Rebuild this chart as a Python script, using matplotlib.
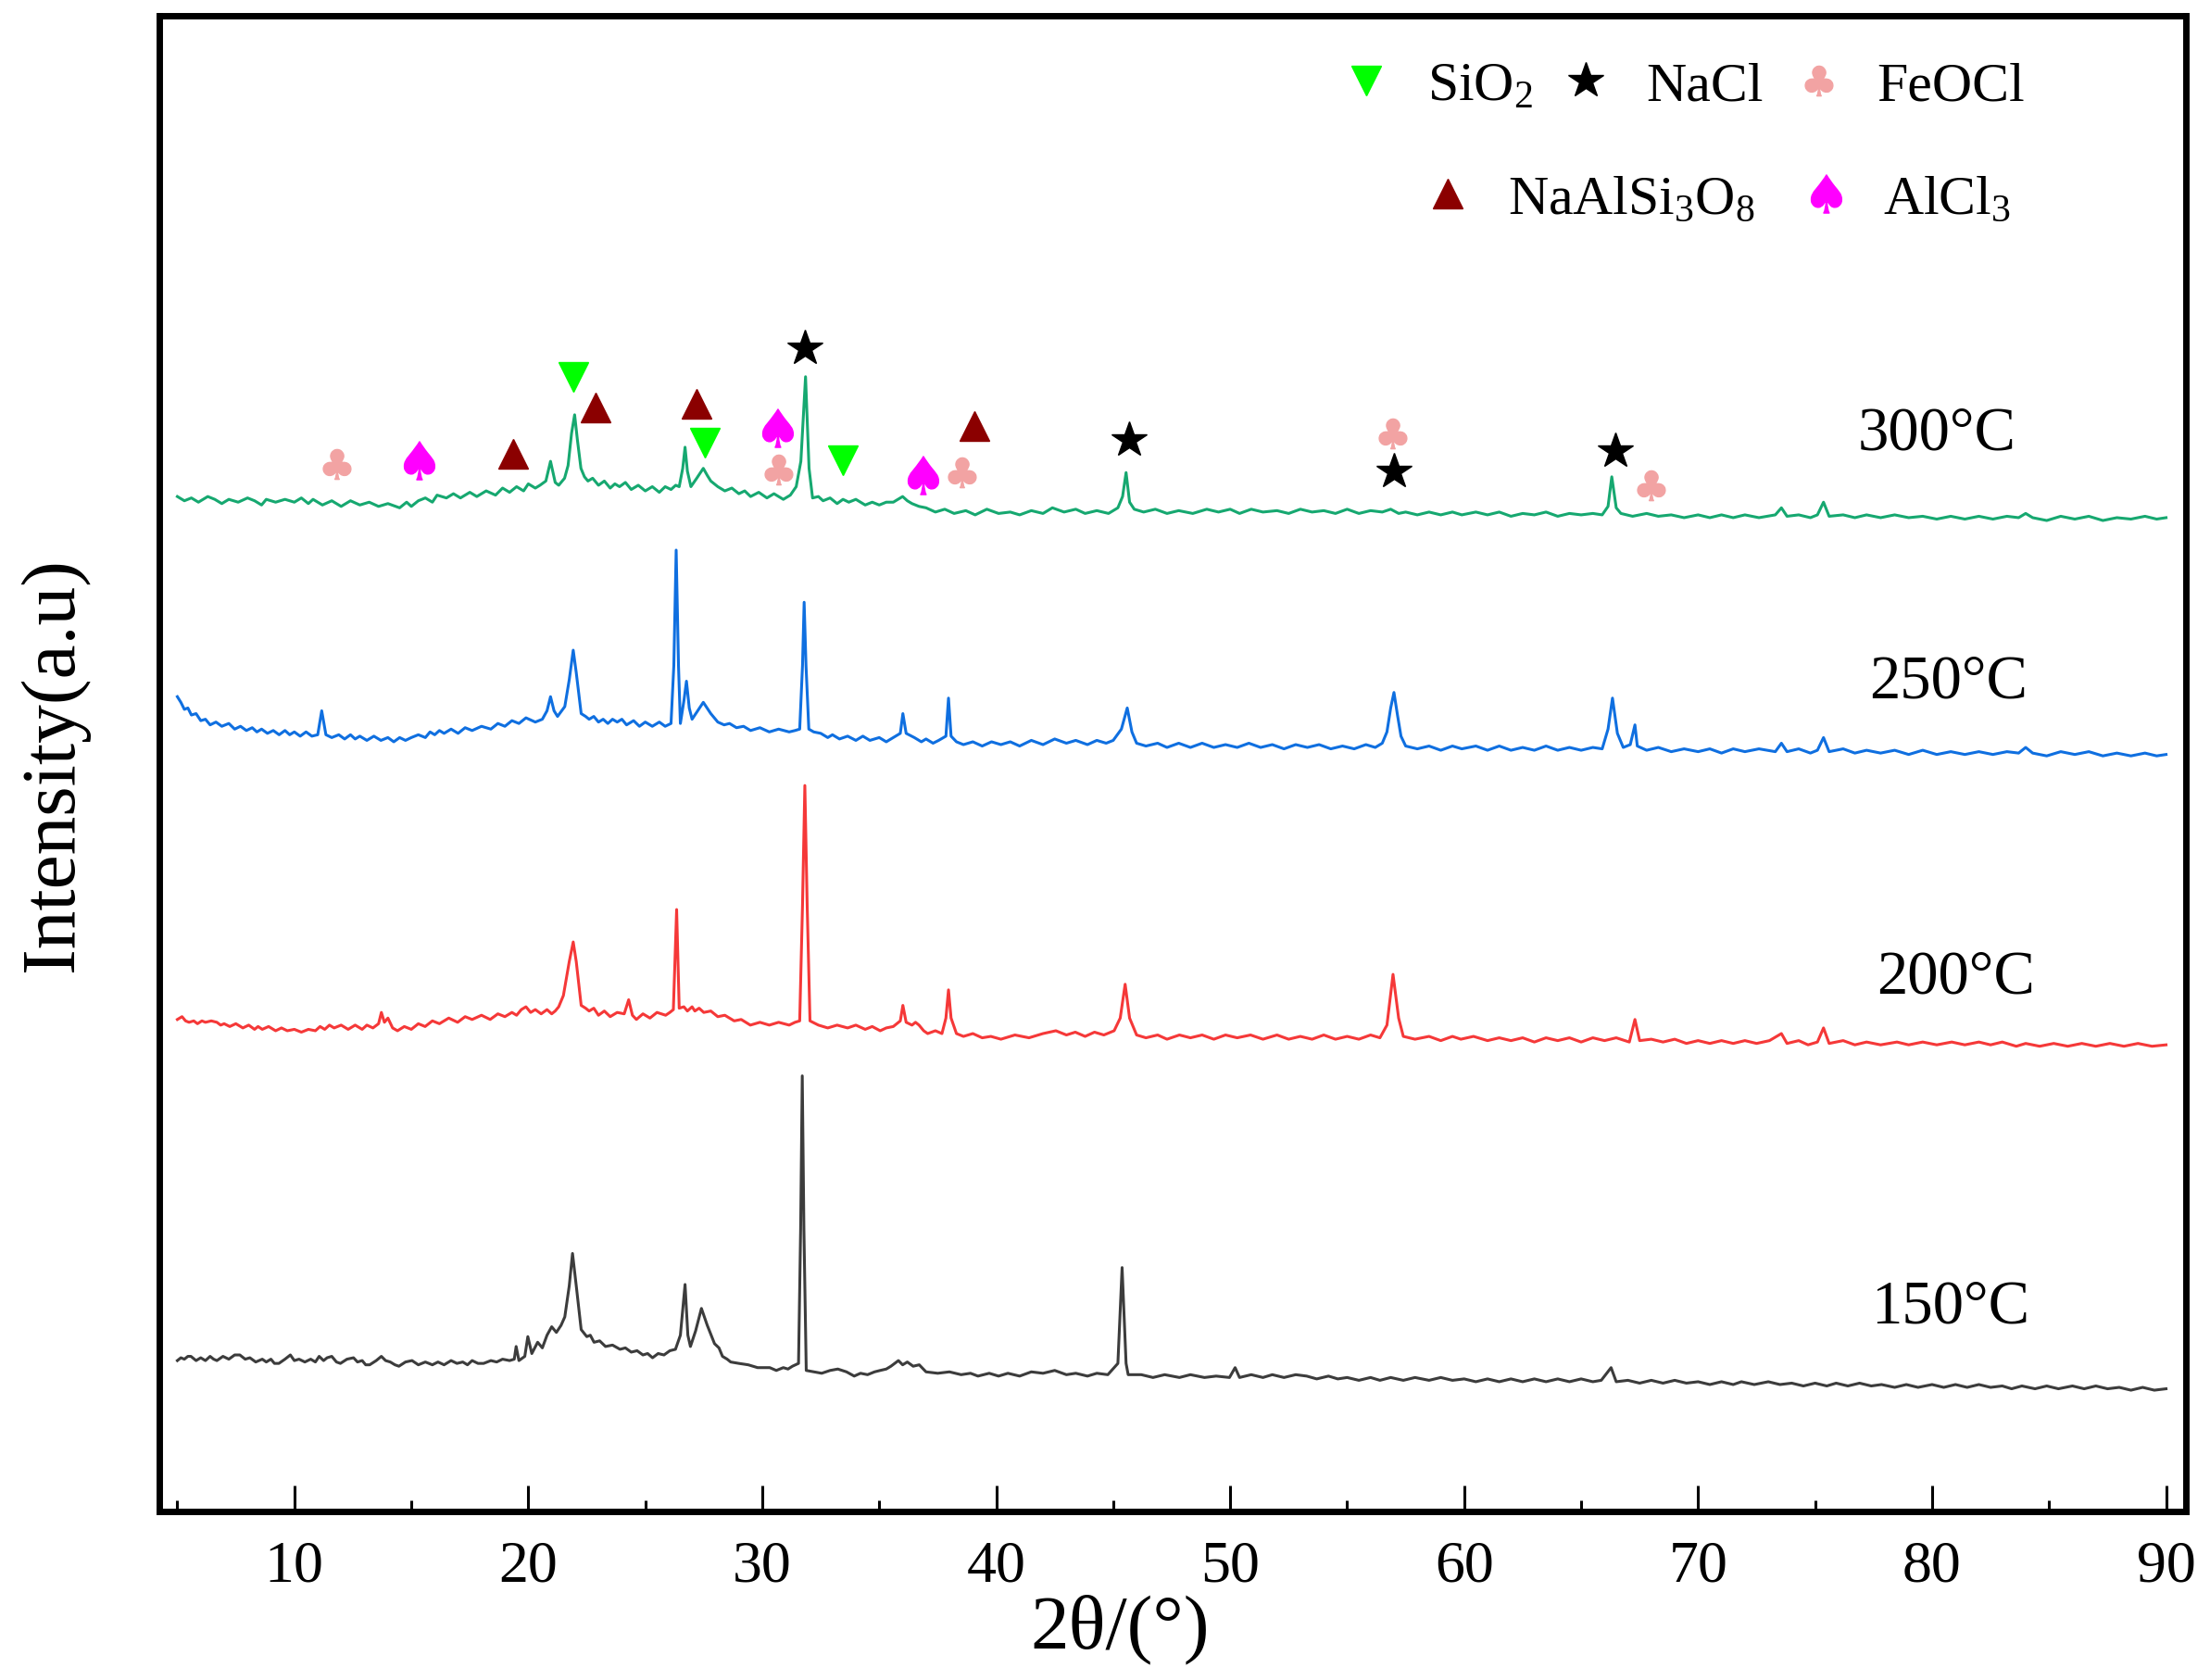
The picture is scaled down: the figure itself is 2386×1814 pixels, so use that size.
import numpy as np
import matplotlib
matplotlib.use('Agg')
import matplotlib.pyplot as plt
from matplotlib.textpath import TextPath
from matplotlib.font_manager import FontProperties
from matplotlib.path import Path
from matplotlib.lines import Line2D
from matplotlib.ticker import MultipleLocator


# ---- XRD patterns: (2theta deg, intensity a.u., already stacked) ----
pat300 = [(5.0, 720), (5.3, 717), (5.6, 719), (5.9, 716), (6.3, 720), (6.6, 718), (6.9, 715),
          (7.2, 718), (7.6, 716), (8.0, 719), (8.3, 717), (8.6, 714), (8.8, 718), (9.2, 716),
          (9.6, 718), (10.0, 716), (10.3, 719), (10.6, 715), (10.8, 718), (11.2, 714), (11.6, 717),
          (12.0, 713), (12.4, 717), (12.8, 714), (13.2, 716), (13.6, 713), (14.0, 715), (14.5, 712),
          (14.8, 716), (15.0, 713), (15.3, 717), (15.6, 719), (15.9, 716), (16.1, 721), (16.5, 719),
          (16.8, 722), (17.1, 719), (17.5, 723), (17.8, 720), (18.2, 724), (18.6, 721), (18.9, 726),
          (19.2, 723), (19.5, 727), (19.8, 724), (20.0, 729), (20.3, 726), (20.5, 728), (20.75, 731),
          (20.95, 745), (21.15, 730), (21.3, 728), (21.55, 733), (21.7, 742), (21.85, 765),
          (21.98, 778), (22.1, 760), (22.25, 740), (22.4, 734), (22.55, 731), (22.75, 733),
          (23.0, 728), (23.25, 731), (23.5, 726), (23.7, 729), (23.9, 727), (24.15, 730), (24.4, 725),
          (24.7, 728), (25.0, 724), (25.3, 727), (25.6, 723), (25.85, 727), (26.1, 725), (26.3, 728),
          (26.45, 727), (26.6, 740), (26.7, 755), (26.8, 738), (26.95, 727), (27.2, 733),
          (27.48, 740), (27.65, 735), (27.8, 731), (28.1, 727), (28.4, 724), (28.7, 726), (29.0, 722),
          (29.25, 724), (29.5, 720), (29.85, 723), (30.2, 719), (30.5, 722), (30.9, 718), (31.2, 721),
          (31.45, 727), (31.65, 745), (31.85, 805), (32.0, 740), (32.15, 719), (32.4, 720),
          (32.6, 717), (32.9, 719), (33.2, 715), (33.45, 718), (33.7, 716), (34.0, 718), (34.4, 714),
          (34.7, 716), (35.0, 714), (35.3, 716), (35.6, 716), (35.8, 718), (36.0, 720), (36.2, 717),
          (36.4, 715), (36.7, 713), (37.0, 712), (37.4, 709), (37.8, 711), (38.2, 708), (38.7, 710),
          (39.1, 707), (39.6, 711), (40.1, 708), (40.6, 709), (41.0, 707), (41.5, 710), (42.0, 708),
          (42.4, 712), (42.9, 709), (43.4, 711), (43.8, 708), (44.3, 710), (44.8, 708), (45.2, 712),
          (45.4, 720), (45.55, 737), (45.7, 716), (45.9, 711), (46.3, 709), (46.8, 711), (47.3, 708),
          (47.8, 710), (48.4, 708), (49.0, 711), (49.5, 709), (50.0, 711), (50.4, 708), (50.9, 711),
          (51.4, 709), (52.0, 710), (52.5, 708), (53.0, 711), (53.5, 709), (54.0, 710), (54.5, 708),
          (55.0, 711), (55.5, 708), (56.0, 710), (56.5, 709), (56.86, 711), (57.2, 708), (57.5, 709),
          (58.0, 707), (58.5, 709), (59.0, 707), (59.5, 709), (59.9, 707), (60.5, 709), (61.0, 707),
          (61.5, 709), (62.0, 706), (62.5, 708), (63.0, 707), (63.5, 709), (64.0, 706), (64.5, 708),
          (65.0, 707), (65.5, 708), (65.9, 707), (66.15, 713), (66.31, 734), (66.5, 712), (66.7, 708),
          (67.2, 706), (67.8, 708), (68.3, 706), (68.85, 707), (69.4, 705), (70.0, 707), (70.5, 705),
          (71.0, 707), (71.5, 705), (72.0, 707), (72.6, 705), (73.3, 707), (73.56, 712), (73.8, 706),
          (74.3, 707), (74.8, 705), (75.1, 707), (75.36, 716), (75.6, 706), (76.2, 707), (76.7, 705),
          (77.2, 707), (77.8, 705), (78.4, 707), (79.0, 705), (79.6, 706), (80.2, 704), (80.8, 706),
          (81.4, 704), (82.0, 706), (82.6, 704), (83.2, 706), (83.7, 705), (84.0, 708), (84.3, 705),
          (84.9, 703), (85.5, 706), (86.1, 704), (86.7, 706), (87.3, 703), (87.9, 705), (88.5, 704),
          (89.1, 706), (89.6, 704), (90.0, 705)]

pat250 = [(5.0, 578), (5.15, 574), (5.3, 569), (5.45, 570), (5.6, 565), (5.8, 566), (6.0, 561),
          (6.2, 562), (6.4, 558), (6.65, 560), (6.9, 557), (7.2, 559), (7.45, 555), (7.7, 557),
          (7.95, 554), (8.2, 556), (8.4, 553), (8.6, 555), (8.85, 552), (9.1, 554), (9.35, 551),
          (9.6, 554), (9.8, 551), (10.0, 553), (10.25, 550), (10.5, 553), (10.75, 550), (11.0, 551),
          (11.17, 568), (11.35, 551), (11.6, 549), (11.9, 551), (12.15, 548), (12.4, 551),
          (12.6, 548), (12.8, 550), (13.1, 547), (13.4, 550), (13.7, 547), (14.0, 549), (14.25, 546),
          (14.5, 549), (14.75, 547), (15.0, 549), (15.3, 551), (15.6, 549), (15.8, 553), (16.0, 551),
          (16.2, 554), (16.4, 552), (16.7, 555), (17.0, 552), (17.3, 556), (17.6, 554), (18.0, 557),
          (18.4, 555), (18.7, 559), (19.0, 557), (19.3, 561), (19.6, 559), (19.9, 563), (20.3, 560),
          (20.6, 562), (20.8, 568), (20.95, 578), (21.1, 568), (21.25, 564), (21.56, 571),
          (21.75, 590), (21.92, 611), (22.05, 595), (22.26, 566), (22.45, 564), (22.6, 562),
          (22.8, 564), (23.0, 560), (23.2, 562), (23.4, 559), (23.6, 562), (23.8, 560), (24.0, 562),
          (24.2, 558), (24.5, 561), (24.75, 557), (25.0, 560), (25.3, 557), (25.6, 560), (25.85, 557),
          (26.1, 559), (26.22, 600), (26.32, 682), (26.42, 600), (26.5, 559), (26.65, 575),
          (26.76, 589), (26.88, 570), (27.0, 562), (27.2, 567), (27.48, 574), (27.8, 566),
          (28.1, 560), (28.37, 558), (28.6, 559), (28.9, 556), (29.2, 557), (29.5, 554), (29.9, 556),
          (30.3, 553), (30.7, 555), (31.15, 553), (31.4, 554), (31.6, 555), (31.72, 600),
          (31.79, 645), (31.87, 600), (31.99, 555), (32.2, 553), (32.5, 552), (32.8, 549),
          (33.0, 551), (33.3, 548), (33.65, 550), (34.0, 547), (34.3, 550), (34.6, 547), (35.0, 549),
          (35.3, 546), (35.6, 549), (35.9, 552), (36.01, 566), (36.15, 552), (36.5, 549), (36.8, 546),
          (37.0, 548), (37.3, 545), (37.54, 547), (37.85, 550), (37.96, 577), (38.07, 550),
          (38.3, 546), (38.6, 544), (39.0, 546), (39.4, 543), (39.8, 546), (40.2, 544), (40.6, 546),
          (41.0, 543), (41.5, 547), (42.0, 544), (42.5, 548), (43.0, 545), (43.4, 547), (43.9, 544),
          (44.3, 547), (44.7, 545), (45.0, 547), (45.35, 555), (45.6, 570), (45.8, 553), (46.0, 545),
          (46.4, 543), (46.9, 545), (47.3, 542), (47.8, 545), (48.3, 542), (48.8, 545), (49.3, 542),
          (49.8, 544), (50.3, 542), (50.8, 545), (51.3, 542), (51.8, 544), (52.3, 541), (52.8, 544),
          (53.3, 542), (53.8, 544), (54.3, 541), (54.8, 543), (55.3, 541), (55.8, 544), (56.2, 542),
          (56.5, 545), (56.7, 553), (56.86, 570), (57.0, 581), (57.15, 565), (57.3, 550), (57.5, 543),
          (58.0, 541), (58.5, 543), (59.0, 540), (59.5, 543), (59.9, 541), (60.5, 543), (61.0, 540),
          (61.5, 543), (62.0, 540), (62.5, 542), (63.0, 540), (63.5, 543), (64.0, 540), (64.5, 542),
          (65.0, 540), (65.5, 542), (65.9, 541), (66.15, 555), (66.34, 577), (66.55, 552),
          (66.8, 542), (67.1, 544), (67.3, 558), (67.4, 543), (67.8, 540), (68.3, 542), (68.85, 539),
          (69.4, 541), (70.0, 539), (70.5, 541), (71.0, 538), (71.5, 541), (72.0, 539), (72.6, 541),
          (73.3, 539), (73.56, 545), (73.8, 539), (74.3, 541), (74.8, 538), (75.1, 540), (75.36, 549),
          (75.6, 539), (76.2, 541), (76.7, 538), (77.2, 540), (77.8, 538), (78.4, 540), (79.0, 537),
          (79.6, 540), (80.2, 537), (80.8, 539), (81.4, 537), (82.0, 539), (82.6, 537), (83.2, 539),
          (83.7, 538), (84.0, 542), (84.3, 538), (84.9, 536), (85.5, 539), (86.1, 537), (86.7, 539),
          (87.3, 536), (87.9, 538), (88.5, 536), (89.1, 538), (89.6, 536), (90.0, 537)]

pat200 = [(5.0, 349), (5.2, 351), (5.35, 348), (5.5, 347), (5.7, 348), (5.86, 346), (6.05, 348),
          (6.2, 347), (6.45, 348), (6.69, 347), (6.85, 345), (7.0, 346), (7.24, 344), (7.5, 346),
          (7.8, 343), (8.05, 345), (8.3, 342), (8.45, 344), (8.63, 342), (8.9, 344), (9.2, 341),
          (9.45, 343), (9.7, 341), (10.0, 342), (10.3, 340), (10.6, 342), (10.9, 341), (11.1, 344),
          (11.3, 342), (11.5, 345), (11.7, 343), (12.0, 345), (12.3, 342), (12.6, 345), (12.9, 342),
          (13.1, 345), (13.36, 343), (13.6, 346), (13.72, 354), (13.85, 347), (14.0, 350),
          (14.2, 343), (14.41, 341), (14.7, 344), (15.0, 342), (15.3, 346), (15.59, 344), (15.9, 348),
          (16.2, 346), (16.6, 350), (16.98, 347), (17.3, 351), (17.6, 349), (18.0, 352), (18.37, 349),
          (18.7, 353), (19.0, 351), (19.3, 354), (19.5, 352), (19.7, 356), (19.9, 358), (20.1, 354),
          (20.3, 356), (20.55, 353), (20.8, 356), (21.0, 353), (21.15, 355), (21.3, 358), (21.5, 366),
          (21.75, 390), (21.92, 404), (22.05, 390), (22.26, 359), (22.45, 357), (22.6, 355),
          (22.8, 357), (23.0, 352), (23.25, 355), (23.5, 351), (23.8, 354), (24.1, 353), (24.29, 363),
          (24.45, 352), (24.62, 349), (24.9, 353), (25.2, 350), (25.5, 354), (25.87, 352),
          (26.05, 354), (26.2, 356), (26.34, 427), (26.45, 357), (26.65, 358), (26.8, 355),
          (27.0, 358), (27.12, 355), (27.3, 357), (27.5, 354), (27.8, 355), (28.1, 351), (28.4, 352),
          (28.8, 348), (29.1, 349), (29.49, 345), (29.9, 347), (30.3, 345), (30.7, 347), (31.15, 345),
          (31.4, 347), (31.6, 348), (31.72, 430), (31.82, 515), (31.92, 430), (32.04, 348),
          (32.4, 345), (32.8, 343), (33.2, 345), (33.65, 343), (34.0, 345), (34.4, 342), (34.7, 344),
          (35.04, 341), (35.3, 343), (35.6, 344), (35.9, 348), (36.01, 359), (36.15, 347),
          (36.4, 345), (36.55, 347), (36.7, 345), (36.9, 341), (37.07, 339), (37.4, 341),
          (37.68, 339), (37.85, 350), (37.96, 370), (38.07, 350), (38.3, 339), (38.6, 337),
          (39.0, 339), (39.4, 336), (39.77, 337), (40.2, 335), (40.8, 338), (41.4, 336), (42.0, 339),
          (42.55, 341), (43.0, 338), (43.38, 340), (43.8, 337), (44.2, 340), (44.6, 338),
          (45.04, 341), (45.3, 350), (45.51, 374), (45.7, 350), (46.0, 338), (46.4, 336), (46.9, 338),
          (47.3, 335), (47.83, 338), (48.3, 336), (48.8, 338), (49.3, 335), (49.8, 338), (50.3, 336),
          (50.87, 338), (51.4, 335), (52.0, 338), (52.5, 335), (53.0, 337), (53.5, 335), (54.0, 338),
          (54.5, 335), (55.0, 337), (55.5, 335), (56.0, 338), (56.4, 336), (56.7, 345), (56.96, 381),
          (57.2, 350), (57.4, 337), (57.9, 335), (58.5, 337), (59.0, 334), (59.5, 337), (59.86, 335),
          (60.4, 337), (61.0, 334), (61.5, 336), (62.0, 334), (62.5, 336), (63.0, 333), (63.5, 336),
          (64.0, 334), (64.5, 336), (65.0, 333), (65.5, 336), (66.0, 334), (66.5, 336), (67.06, 333),
          (67.3, 349), (67.5, 334), (68.0, 335), (68.5, 333), (69.0, 335), (69.5, 332), (70.0, 334),
          (70.5, 332), (71.0, 334), (71.5, 332), (72.0, 334), (72.5, 332), (73.05, 334), (73.56, 339),
          (73.8, 332), (74.3, 334), (74.7, 331), (75.1, 333), (75.36, 343), (75.6, 332), (76.2, 334),
          (76.7, 331), (77.2, 333), (77.8, 331), (78.5, 333), (79.0, 331), (79.6, 333), (80.2, 331),
          (80.84, 333), (81.4, 331), (82.0, 333), (82.5, 331), (83.0, 333), (83.6, 330), (84.0, 332),
          (84.6, 330), (85.2, 332), (85.8, 330), (86.4, 332), (87.0, 330), (87.6, 332), (88.2, 330),
          (88.8, 332), (89.4, 330), (90.0, 331)]

pat150 = [(5.0, 107), (5.15, 109), (5.3, 108), (5.45, 110), (5.58, 110), (5.8, 107), (6.0, 109),
          (6.2, 107), (6.4, 110), (6.55, 108), (6.69, 107), (6.95, 110), (7.2, 108), (7.45, 111),
          (7.67, 111), (7.9, 108), (8.1, 109), (8.35, 106), (8.63, 108), (8.8, 106), (9.0, 108),
          (9.15, 105), (9.34, 105), (9.6, 108), (9.83, 111), (10.0, 107), (10.2, 108), (10.45, 106),
          (10.7, 108), (10.9, 106), (11.06, 110), (11.25, 107), (11.4, 109), (11.6, 110), (11.8, 106),
          (11.97, 105), (12.25, 108), (12.53, 109), (12.7, 106), (12.9, 107), (13.05, 104),
          (13.22, 104), (13.5, 107), (13.72, 110), (13.9, 107), (14.1, 106), (14.3, 104), (14.47, 103),
          (14.75, 106), (15.03, 107), (15.3, 104), (15.6, 106), (15.9, 104), (16.14, 106), (16.4, 104),
          (16.7, 107), (16.95, 105), (17.2, 106), (17.4, 104), (17.6, 107), (17.85, 105), (18.09, 105),
          (18.4, 107), (18.65, 106), (18.9, 108), (19.2, 107), (19.4, 108), (19.48, 117), (19.6, 107),
          (19.85, 110), (19.98, 124), (20.15, 112), (20.4, 120), (20.6, 116), (20.8, 125), (21.0, 131),
          (21.2, 127), (21.4, 132), (21.56, 138), (21.75, 160), (21.89, 183), (22.05, 160),
          (22.26, 129), (22.5, 124), (22.65, 125), (22.81, 120), (23.05, 121), (23.3, 117),
          (23.6, 118), (23.92, 115), (24.15, 116), (24.4, 113), (24.65, 114), (24.9, 111),
          (25.1, 112), (25.31, 109), (25.55, 112), (25.8, 111), (26.05, 114), (26.29, 115),
          (26.5, 125), (26.7, 161), (26.82, 125), (26.93, 117), (27.15, 128), (27.4, 144),
          (27.65, 132), (27.96, 119), (28.15, 116), (28.3, 110), (28.5, 108), (28.65, 106),
          (29.0, 105), (29.4, 104), (29.8, 102), (30.32, 102), (30.6, 100), (30.9, 102), (31.1, 101),
          (31.29, 103), (31.55, 105), (31.64, 200), (31.71, 309), (31.78, 200), (31.88, 100),
          (32.2, 99), (32.54, 98), (32.9, 100), (33.23, 101), (33.6, 99), (33.93, 96), (34.2, 98),
          (34.5, 97), (34.8, 99), (35.04, 100), (35.3, 101), (35.5, 103), (35.82, 107), (36.0, 104),
          (36.2, 106), (36.45, 103), (36.71, 104), (37.0, 99), (37.5, 98), (38.0, 99), (38.5, 97),
          (38.9, 98), (39.22, 96), (39.7, 98), (40.1, 96), (40.5, 98), (41.0, 96), (41.5, 99),
          (42.0, 98), (42.5, 100), (43.0, 97), (43.4, 98), (43.9, 96), (44.3, 98), (44.77, 97),
          (45.2, 105), (45.38, 173), (45.55, 105), (45.64, 97), (46.2, 97), (46.7, 95), (47.2, 97),
          (47.83, 95), (48.3, 97), (48.9, 95), (49.4, 96), (49.97, 95), (50.21, 102), (50.4, 95),
          (50.9, 97), (51.4, 95), (51.8, 97), (52.3, 95), (52.8, 97), (53.27, 96), (53.7, 94),
          (54.2, 96), (54.6, 94), (55.0, 95), (55.5, 93), (56.0, 95), (56.4, 93), (56.86, 95),
          (57.4, 93), (57.9, 95), (58.5, 93), (59.0, 95), (59.5, 93), (60.0, 94), (60.5, 92),
          (61.0, 94), (61.5, 92), (62.0, 94), (62.5, 92), (63.0, 94), (63.5, 92), (64.0, 94),
          (64.5, 92), (65.0, 94), (65.5, 92), (65.86, 93), (66.28, 102), (66.5, 92), (67.0, 93),
          (67.5, 91), (68.0, 93), (68.5, 91), (69.0, 93), (69.5, 91), (70.0, 92), (70.5, 90),
          (71.0, 92), (71.5, 90), (71.85, 92), (72.4, 90), (73.0, 92), (73.5, 90), (74.0, 91),
          (74.5, 89), (75.0, 91), (75.5, 89), (75.9, 91), (76.4, 89), (76.9, 91), (77.4, 89),
          (77.84, 90), (78.4, 88), (78.9, 90), (79.4, 88), (80.0, 90), (80.5, 88), (81.0, 90),
          (81.5, 88), (82.0, 90), (82.5, 88), (83.0, 89), (83.4, 87), (83.84, 89), (84.4, 87),
          (84.9, 89), (85.4, 87), (86.0, 89), (86.5, 87), (87.0, 89), (87.5, 87), (88.0, 88),
          (88.5, 86), (89.0, 88), (89.5, 86), (90.0, 87)]

# phase markers on the 300 C pattern
sio2_x = [21.92, 27.53, 33.46]
sio2_y = [805, 758, 746]
nacl_x = [31.82, 45.66, 57.02, 66.46]
nacl_y = [825, 760, 738, 752]
feocl_x = [11.7, 30.6, 38.43, 56.86, 67.87]
feocl_y = [743, 739, 737, 765, 728]
naalsi_x = [19.34, 22.87, 27.2, 39.07]
naalsi_y = [750, 783, 786, 770]
alcl3_x = [15.17, 30.46, 36.71]
alcl3_y = [746, 769, 735]

temp_labels = ['300\u00b0C', '250\u00b0C', '200\u00b0C', '150\u00b0C']
temp_x = [80.2, 80.7, 81.0, 80.8]
temp_y = [765, 589, 379, 145]


def glyph_marker(ch):
    p = TextPath((0, 0), ch, size=10, prop=FontProperties(family='DejaVu Sans'))
    v = p.vertices.copy()
    v -= (v.min(axis=0) + v.max(axis=0)) / 2
    return Path(v, p.codes)


plt.rcParams['font.family'] = 'Liberation Serif'
plt.rcParams['mathtext.fontset'] = 'custom'
plt.rcParams['mathtext.rm'] = 'Liberation Serif'
plt.rcParams['mathtext.it'] = 'Liberation Serif:italic'

club = glyph_marker('\u2663')
spade = glyph_marker('\u2660')

fig = plt.figure(figsize=(23.86, 18.15), dpi=100)
ax = fig.add_axes([0.0721, 0.1003, 0.9169, 0.8897])

for pat, col in [(pat150, '#3c3c3c'), (pat200, '#f53838'),
                 (pat250, '#0f6fe0'), (pat300, '#16a870')]:
    xs, ys = zip(*pat)
    ax.plot(xs, ys, color=col, lw=2.2)

st_sio2 = dict(ls='none', marker='v', color='#00ff00', ms=23)
st_nacl = dict(ls='none', marker='*', color='black', ms=29)
st_feocl = dict(ls='none', marker=club, color='#f2a3a3', ms=25)
st_naalsi = dict(ls='none', marker='^', color='#8b0000', ms=23)
st_alcl3 = dict(ls='none', marker=spade, color='#ff00ff', ms=30)

ax.plot(sio2_x, sio2_y, zorder=4, **st_sio2)
ax.plot(nacl_x, nacl_y, zorder=4, **st_nacl)
ax.plot(feocl_x, feocl_y, zorder=4, **st_feocl)
ax.plot(naalsi_x, naalsi_y, zorder=4, **st_naalsi)
ax.plot(alcl3_x, alcl3_y, zorder=4, **st_alcl3)

for t, tx, ty in zip(temp_labels, temp_x, temp_y):
    ax.text(tx, ty, t, fontsize=48, ha='center', va='center')

leg_kw = dict(loc='center left', frameon=False, fontsize=43, handlelength=1.0,
              handletextpad=0.6, borderpad=0, borderaxespad=0)
leg1 = ax.legend([Line2D([], [], **st_sio2), Line2D([], [], **st_nacl), Line2D([], [], **st_feocl)],
                 [r'SiO$_\mathregular{2}$', 'NaCl', 'FeOCl'],
                 bbox_to_anchor=(0.582, 0.953), ncol=3, columnspacing=0.45, **leg_kw)
ax.add_artist(leg1)
ax.legend([Line2D([], [], **st_naalsi), Line2D([], [], **st_alcl3)],
          [r'NaAlSi$_\mathregular{3}$O$_\mathregular{8}$', r'AlCl$_\mathregular{3}$'],
          bbox_to_anchor=(0.622, 0.877), ncol=2, columnspacing=0.7, **leg_kw)

ax.set_xlim(4.23, 90.84)
ax.set_ylim(0, 1061)
ax.xaxis.set_major_locator(MultipleLocator(10))
ax.xaxis.set_minor_locator(MultipleLocator(5))
ax.set_yticks([])
ax.tick_params(axis='x', which='major', direction='in', length=20, width=2.2,
               labelsize=46, pad=22)
ax.tick_params(axis='x', which='minor', direction='in', length=9, width=2.2)
for s in ax.spines.values():
    s.set_linewidth(5)

ax.set_xlabel('2\u03b8/(\u00b0)', fontsize=60, labelpad=0)
ax.xaxis.label.set_x(0.474)
ax.set_ylabel('Intensity(a.u)', fontsize=60, labelpad=55)

fig.savefig('out.png', dpi=100)
